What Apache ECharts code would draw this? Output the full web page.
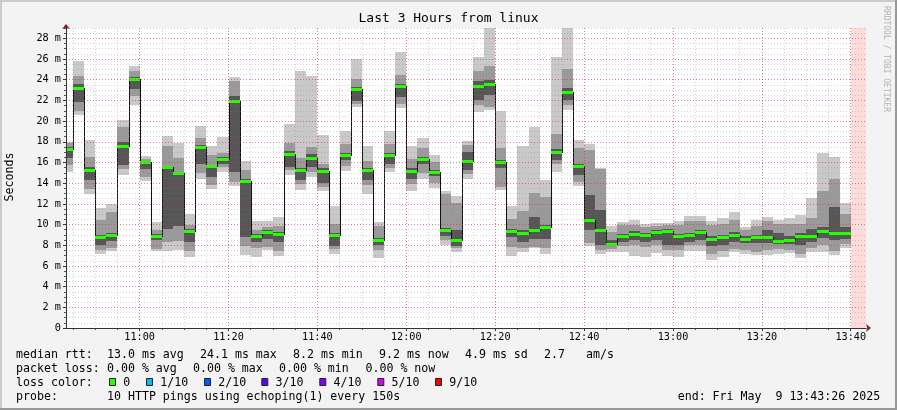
<!DOCTYPE html>
<html><head><meta charset="utf-8">
<script src="https://cdn.jsdelivr.net/npm/echarts@6/dist/echarts.min.js"></script>
<style>html,body{margin:0;padding:0;background:#f3f3f3}#c{width:897px;height:410px}</style>
</head><body><div id="c"></div>
<script>
// ---------- data ----------
const chartTitle = 'Last 3 Hours from linux';
const startTime = '10:43:26';
const endTime = '13:43:26';
const firstStepEnd = '10:45:00';
const stepMinutes = 2.5;
const unknownFrom = '13:40:00';
const xTickLabels = ['11:00','11:20','11:40','12:00','12:20','12:40','13:00','13:20','13:40'];
const yTickValues = [0,2,4,6,8,10,12,14,16,18,20,22,24,26,28];
const yMax = 29;
// per 150 s step: sorted ping spread (outer, middle, inner bands) and median, in ms
const pingMin = [15.1,20.6,13.0,7.2,7.4,14.8,21.55,14.2,7.4,7.4,7.5,6.9,14.4,13.4,15.1,13.7,7.05,6.9,7.5,7.0,14.8,13.3,14.55,13.2,7.2,15.2,21.35,12.95,6.75,15.1,21.25,13.2,14.45,13.5,8.0,7.3,14.4,20.9,21.05,13.3,7.0,7.35,7.7,7.15,15.1,21.1,13.75,7.9,7.2,7.35,7.3,6.95,6.9,7.25,7.0,6.9,7.4,7.4,6.6,6.9,7.3,7.15,7.05,7.1,7.2,7.25,6.75,7.3,7.35,7.05,7.7];
const midLow  = [15.8,21.0,13.4,7.5,7.7,15.4,22.4,14.6,7.6,8.35,8.4,7.4,15.0,13.8,15.6,14.1,7.9,7.7,7.85,7.4,15.3,13.9,15.1,13.6,7.6,15.7,21.7,13.8,7.5,15.5,21.7,13.9,15.0,14.0,8.5,7.7,14.85,21.55,21.35,13.65,7.85,7.7,7.85,7.7,15.9,21.55,14.15,8.25,7.55,7.6,7.9,8.0,7.8,8.0,7.5,7.5,8.0,8.0,7.2,7.4,7.6,7.5,7.35,7.5,7.6,7.55,7.2,7.7,8.0,7.4,8.1];
const darkLow = [16.4,21.8,14.3,8.0,8.4,15.8,23.1,15.4,8.5,9.6,9.9,8.3,15.9,14.6,15.9,15.1,8.8,8.35,8.65,8.35,15.6,14.3,15.6,14.0,7.9,16.2,21.9,14.3,8.0,15.9,22.35,14.45,15.9,14.7,8.9,7.95,15.3,22.05,22.5,15.5,8.8,8.35,8.65,8.65,16.2,22.0,14.8,9.45,8.0,7.9,8.35,8.5,8.35,8.5,8.0,8.0,8.35,8.5,7.9,8.0,8.35,8.2,8.2,8.2,8.1,8.1,8.0,8.35,8.7,8.5,8.6];
const median  = [17.3,23.2,15.3,8.8,9.0,17.6,24.1,16.0,8.9,15.6,15.0,9.4,17.45,15.65,16.35,21.95,14.2,8.85,9.3,9.05,16.85,15.25,16.4,15.2,8.95,16.7,23.1,15.25,8.5,16.7,23.4,15.2,16.3,15.05,9.5,8.55,16.15,23.4,23.6,16.0,9.35,9.2,9.5,9.8,17.0,22.85,15.7,10.45,9.45,8.15,8.9,9.05,9.0,9.3,9.4,8.85,9.0,9.3,8.6,8.75,9.0,8.6,8.8,8.8,8.45,8.55,8.85,8.9,9.35,9.15,9.2];
const darkHigh= [17.5,23.6,15.6,9.0,9.2,18.0,24.3,16.1,9.1,15.7,15.1,9.6,17.7,15.8,16.5,22.4,14.4,9.1,9.45,9.3,17.1,15.5,16.8,15.45,9.2,16.9,23.3,15.45,8.7,16.9,23.6,15.45,16.5,15.3,9.7,9.45,17.0,23.9,24.0,16.2,9.6,9.45,10.7,10.0,17.3,23.2,15.85,12.85,11.4,8.5,9.1,9.35,9.2,9.45,9.6,9.1,9.2,9.5,8.9,9.0,9.3,8.9,9.0,9.5,9.2,8.9,9.2,9.6,9.8,11.7,9.8];
const midHigh = [17.9,24.4,16.5,10.4,11.2,19.4,24.8,16.3,9.5,17.6,16.4,10.0,18.4,16.7,16.95,23.9,15.3,9.5,9.75,9.9,17.85,16.4,17.5,15.9,10.1,17.8,24.05,16.1,9.9,17.8,24.45,16.3,17.4,16.05,12.95,12.05,17.7,24.8,25.3,17.4,10.5,11.35,13.05,12.7,18.8,25.0,17.4,17.2,15.4,9.3,9.95,9.95,9.75,9.9,10.0,10.0,10.3,10.3,10.0,10.1,10.4,9.5,9.9,10.3,10.05,10.1,10.1,10.6,13.2,14.45,11.05];
const pingMax = [18.0,25.8,18.2,11.6,12.0,20.1,25.3,16.6,10.2,18.6,17.9,11.05,19.5,17.6,18.5,24.25,16.15,10.3,10.35,10.7,19.7,24.85,24.35,18.65,11.8,19.0,26.05,17.6,10.25,19.0,26.65,17.6,18.35,16.7,13.25,12.75,18.05,26.2,29.4,21.0,11.8,17.6,19.45,14.3,26.2,29.4,18.15,17.8,15.5,9.85,10.2,10.45,10.1,10.15,10.15,10.3,10.85,10.85,10.3,10.6,11.2,9.8,10.4,10.7,10.45,10.6,10.9,12.55,16.95,16.5,12.1];
// legend texts
const medianLabel = 'median rtt:';
const medianStats = ['13.0 ms avg','24.1 ms max','8.2 ms min','9.2 ms now','4.9 ms sd','2.7','am/s'];
const lossLabel = 'packet loss:';
const lossStats = ['0.00 % avg','0.00 % max','0.00 % min','0.00 % now'];
const lossColorLabel = 'loss color:';
const lossLevels = ['0','1/10','2/10','3/10','4/10','5/10','9/10'];
const lossColors = ['#26ff00','#00b8ff','#0059ff','#5e00ff','#7e00ff','#dd00ff','#ff0000'];
const probeLabel = 'probe:';
const probeText = '10 HTTP pings using echoping(1) every 150s';
const endText = 'end: Fri May  9 13:43:26 2025';
const yName = 'Seconds';
const watermark = 'RRDTOOL / TOBI OETIKER';

// ---------- helpers ----------
function toMin(s){ const p = s.split(':').map(Number); return p[0]*60 + p[1] + (p[2]||0)/60; }
function fmtMin(v){ const h = Math.floor(v/60), m = Math.round(v - h*60); return (h<10?'0':'')+h+':'+(m<10?'0':'')+m; }
const tMin = toMin(startTime), tMax = toMin(endTime), t0 = toMin(firstStepEnd);
const MONO = '"DejaVu Sans Mono", monospace';
const C_OUT = '#c9c9c9', C_MID = '#9a9a9a', C_IN = '#565656', GREEN = '#26ff00';

const barData = median.map((m, j) => [t0 + j*stepMinutes, pingMin[j], midLow[j], darkLow[j], m, darkHigh[j], midHigh[j], pingMax[j], j > 0 ? median[j-1] : m]);
const majorX = xTickLabels.map(toMin);
const minorX = [];
for (let t = t0; t <= toMin(unknownFrom) + 0.001; t += 5) minorX.push(t);

function renderBar(params, api){
  const t = api.value(0);
  const xa = Math.round(api.coord([t - stepMinutes, 0])[0]);
  const xb = Math.round(api.coord([t, 0])[0]);
  const py = v => Math.round(api.coord([t, v])[1]);
  const rect = (a, b, fill) => { const y1 = py(b), y2 = py(a); return {type:'rect', shape:{x:xa, y:y1, width:xb-xa, height:Math.max(1, y2-y1)}, style:{fill:fill}}; };
  const kids = [rect(api.value(1), api.value(7), C_OUT), rect(api.value(2), api.value(6), C_MID), rect(api.value(3), api.value(5), C_IN)];
  const ym = py(api.value(4)), yp = py(api.value(8));
  kids.push({type:'rect', shape:{x:xa, y:Math.min(yp, ym), width:1, height:Math.abs(yp-ym)+1}, style:{fill:'#111'}});
  kids.push({type:'rect', shape:{x:xa, y:ym-1, width:xb-xa, height:3}, style:{fill:GREEN}});
  return {type:'group', children:kids};
}
function renderUnknown(params, api){
  const a = api.coord([api.value(0), yMax]), b = api.coord([api.value(1), 0]);
  return {type:'rect', shape:{x:Math.round(a[0]), y:a[1], width:Math.round(b[0])-Math.round(a[0]), height:b[1]-a[1]}, style:{fill:'#ffdcdc'}};
}

// ---------- legend graphics ----------
const LF = 11.6;
const txt = (x, y, s, extra) => Object.assign({type:'text', x:x, y:y, style:{text:s, fontFamily:MONO, fontSize:LF, fill:'#000', align:'left', verticalAlign:'middle'}}, extra||{});
const rowY = [354.5, 368.5, 382.5, 396.6];
const statX1 = [107, 200, 293, 379, 465, 544, 586];
const statX2 = [107, 193, 279, 365.5];
const boxX = [109, 146, 204, 261.3, 319.3, 377.3, 435];
const graphics = [];
graphics.push(txt(16, rowY[0], medianLabel));
medianStats.forEach((s, i) => graphics.push(txt(statX1[i], rowY[0], s)));
graphics.push(txt(16, rowY[1], lossLabel));
lossStats.forEach((s, i) => graphics.push(txt(statX2[i], rowY[1], s)));
graphics.push(txt(16, rowY[2], lossColorLabel));
lossLevels.forEach((s, i) => {
  graphics.push({type:'rect', shape:{x:boxX[i]+0.5, y:378.5, width:6, height:7}, style:{fill:lossColors[i], stroke:'#222', lineWidth:1}});
  graphics.push(txt(boxX[i]+14.3, rowY[2], s));
});
graphics.push(txt(16, rowY[3], probeLabel));
graphics.push(txt(107, rowY[3], probeText));
graphics.push(txt(677.7, rowY[3], endText));
graphics.push({type:'text', x:448.5, y:19, style:{text:chartTitle, fontFamily:MONO, fontSize:13, fill:'#000', align:'center', verticalAlign:'middle'}});
graphics.push({type:'text', x:10, y:177, rotation:Math.PI/2, style:{text:yName, fontFamily:MONO, fontSize:LF, fill:'#000', align:'center', verticalAlign:'middle'}});
graphics.push({type:'text', x:886, y:59, rotation:-Math.PI/2, style:{text:watermark, fontFamily:MONO, fontSize:8, fill:'#b2b2b8', align:'center', verticalAlign:'middle'}});
// 3D frame
graphics.push({type:'rect', shape:{x:0, y:0, width:897, height:2}, style:{fill:'#cbcbcb'}});
graphics.push({type:'rect', shape:{x:0, y:0, width:2, height:410}, style:{fill:'#cbcbcb'}});
graphics.push({type:'rect', shape:{x:0, y:408, width:897, height:2}, style:{fill:'#999'}});
graphics.push({type:'rect', shape:{x:895, y:0, width:2, height:410}, style:{fill:'#999'}});

const axisFont = {fontFamily:MONO, fontSize:10.2, color:'#000'};
const option = {
  animation:false,
  backgroundColor:'#f3f3f3',
  grid:{left:66, right:31, top:28, bottom:82, show:true, backgroundColor:'#ffffff', borderWidth:0},
  xAxis:[
    {type:'value', position:'bottom', min:tMin, max:tMax, z:4,
     axisLine:{show:true, onZero:false, lineStyle:{color:'#333', width:1}},
     axisTick:{show:true, customValues:majorX, length:3, lineStyle:{color:'#333'}},
     axisLabel:Object.assign({show:true, customValues:majorX, formatter:fmtMin, margin:4}, axisFont),
     splitLine:{show:true, lineStyle:{color:'rgba(255,0,0,0.38)', width:1, type:[1,2]}}},
    {type:'value', position:'bottom', min:tMin, max:tMax, z:3,
     axisLine:{show:true, onZero:false, symbol:['none','arrow'], symbolSize:[6,5], symbolOffset:[0,5], lineStyle:{color:'#7f1f1f', width:1}},
     axisTick:{show:true, customValues:minorX, length:2, lineStyle:{color:'#555'}},
     axisLabel:{show:false},
     splitLine:{show:true, lineStyle:{color:'rgba(130,130,130,0.35)', width:1, type:[1,2]}}}
  ],
  yAxis:[
    {type:'value', position:'left', min:0, max:yMax, z:4,
     axisLine:{show:true, onZero:false, lineStyle:{color:'#333', width:1}},
     axisTick:{show:true, customValues:yTickValues, length:3, lineStyle:{color:'#333'}},
     axisLabel:Object.assign({show:true, customValues:yTickValues, margin:5, formatter:v => v === 0 ? '0' : v + ' m'}, axisFont),
     splitLine:{show:true, lineStyle:{color:'rgba(255,0,0,0.38)', width:1, type:[1,2]}}},
    {type:'value', position:'left', min:0, max:yMax, interval:0.5, z:3,
     axisLine:{show:true, onZero:false, symbol:['none','arrow'], symbolSize:[6,5], symbolOffset:[0,4], lineStyle:{color:'#7f1f1f', width:1}},
     axisTick:{show:true, length:2, lineStyle:{color:'#555'}},
     axisLabel:{show:false},
     splitLine:{show:true, lineStyle:{color:'rgba(130,130,130,0.35)', width:1, type:[1,2]}}}
  ],
  series:[
    {type:'custom', name:'unknown', xAxisIndex:0, yAxisIndex:0, z:1, clip:true, silent:true,
     renderItem:renderUnknown, data:[[toMin(unknownFrom), tMax]], encode:{x:[0,1]}},
    {type:'custom', name:'rtt', xAxisIndex:0, yAxisIndex:0, z:2, clip:true, silent:true,
     renderItem:renderBar, data:barData, encode:{x:0, y:[1,7]}}
  ],
  graphic:{elements:graphics}
};
const chart = echarts.init(document.getElementById('c'), null, {renderer:'canvas'});
chart.setOption(option);
</script></body></html>
